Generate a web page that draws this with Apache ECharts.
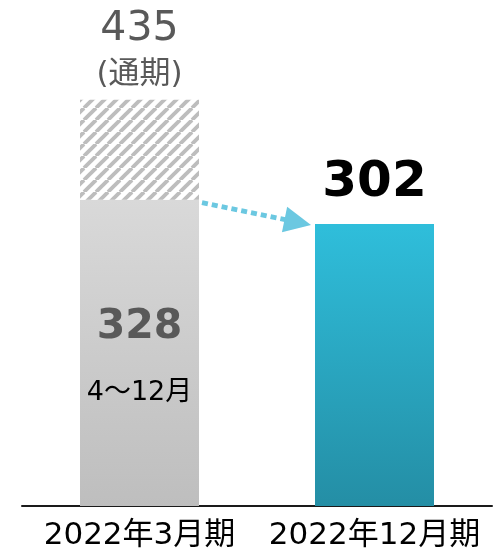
<!DOCTYPE html>
<html><head><meta charset="utf-8">
<script src="https://cdn.jsdelivr.net/npm/echarts@6/dist/echarts.min.js"></script>
<style>html,body{margin:0;padding:0;background:#fff}#c{width:499px;height:552px}</style>
</head><body><div id="c"></div>
<script>
const categories = ['2022年3月期', '2022年12月期'];
const actual = [328, 302];
const fullYear = [435, null];
const actualNote = ['4～12月', ''];
const fullYearNote = '(通期)';

const FONT = "'DejaVu Sans','Noto Sans CJK JP',sans-serif";

// hatch pattern
const P = 12;
const pc = document.createElement('canvas');
pc.width = P; pc.height = P;
const g = pc.getContext('2d');
g.fillStyle = '#ffffff'; g.fillRect(0, 0, P, P);
g.strokeStyle = '#bdbdbd'; g.lineWidth = 3.8;
for (let k = -1; k <= 1; k++) {
  g.beginPath(); g.moveTo(k * P, P); g.lineTo(k * P + P, 0); g.stroke();
}

const remainder = fullYear.map((v, i) => v == null ? null : v - actual[i]);

const chart = echarts.init(document.getElementById('c'));
chart.setOption({
  animation: false,
  grid: { left: 22, right: 7, top: 39, bottom: 46 },
  xAxis: {
    type: 'category', data: categories,
    axisTick: { show: false },
    axisLine: { lineStyle: { color: '#1a1a1a', width: 2 } },
    axisLabel: { color: '#000', fontSize: 31, fontFamily: FONT, margin: 14, interval: 0 }
  },
  yAxis: { type: 'value', min: 0, max: 500, show: false, splitLine: { show: false } },
  series: [
    {
      type: 'bar', stack: 's', barWidth: 119,
      data: actual.map((v, i) => {
        if (i === 0) {
          return {
            value: v,
            itemStyle: { color: new echarts.graphic.LinearGradient(0, 0, 0, 1, [
              { offset: 0, color: '#d9d9d9' }, { offset: 1, color: '#bebebe' }]) },
            label: {
              show: true, position: 'insideTop', distance: 103,
              formatter: '{a|' + v + '}\n{b|' + actualNote[i] + '}',
              rich: {
                a: { fontSize: 41, fontWeight: 'bold', color: '#595959', lineHeight: 50, fontFamily: FONT },
                b: { fontSize: 27, color: '#000', lineHeight: 80, fontFamily: FONT }
              }
            }
          };
        }
        return {
          value: v,
          itemStyle: { color: new echarts.graphic.LinearGradient(0, 0, 0, 1, [
            { offset: 0, color: '#2fbedb' }, { offset: 1, color: '#248ea5' }]) },
          label: {
            show: true, position: 'top', distance: 16,
            formatter: String(v),
            fontSize: 50, fontWeight: 'bold', color: '#000', lineHeight: 50, fontFamily: FONT
          }
        };
      })
    },
    {
      type: 'bar', stack: 's', barWidth: 119,
      data: remainder.map((v, i) => v == null ? null : {
        value: v,
        itemStyle: { color: { image: pc, repeat: 'repeat' } },
        label: {
          show: true, position: 'top', distance: 5,
          formatter: '{a|' + fullYear[i] + '}\n{b|' + fullYearNote + '}',
          rich: {
            a: { fontSize: 41, color: '#595959', lineHeight: 50, fontFamily: FONT },
            b: { fontSize: 31, color: '#595959', lineHeight: 40, fontFamily: FONT }
          }
        }
      })
    }
  ]
});

// dotted arrow from top of first actual bar to second bar
function drawArrow() {
  const p0 = chart.convertToPixel({ xAxisIndex: 0, yAxisIndex: 0 }, [0, actual[0]]);
  const p1 = chart.convertToPixel({ xAxisIndex: 0, yAxisIndex: 0 }, [1, actual[1]]);
  const half = 119 / 2;
  const sx = p0[0] + half + 3, sy = p0[1] + 3;
  const tx = p1[0] - half - 4, ty = p1[1] + 1;
  const ang = Math.atan2(ty - sy, tx - sx);
  const L = 27, W = 13;
  const bx = tx - L * Math.cos(ang), by = ty - L * Math.sin(ang);
  const nx = -Math.sin(ang), ny = Math.cos(ang);
  chart.setOption({
    graphic: [
      { type: 'line', shape: { x1: sx, y1: sy, x2: bx + 3 * Math.cos(ang), y2: by + 3 * Math.sin(ang) },
        style: { stroke: '#6bc8e1', lineWidth: 5, lineDash: [6, 4] }, z: 10 },
      { type: 'polygon', shape: { points: [[tx, ty], [bx + nx * W, by + ny * W], [bx - nx * W, by - ny * W]] },
        style: { fill: '#6bc8e1' }, z: 10 }
    ]
  });
}
drawArrow();
</script>
</body></html>
